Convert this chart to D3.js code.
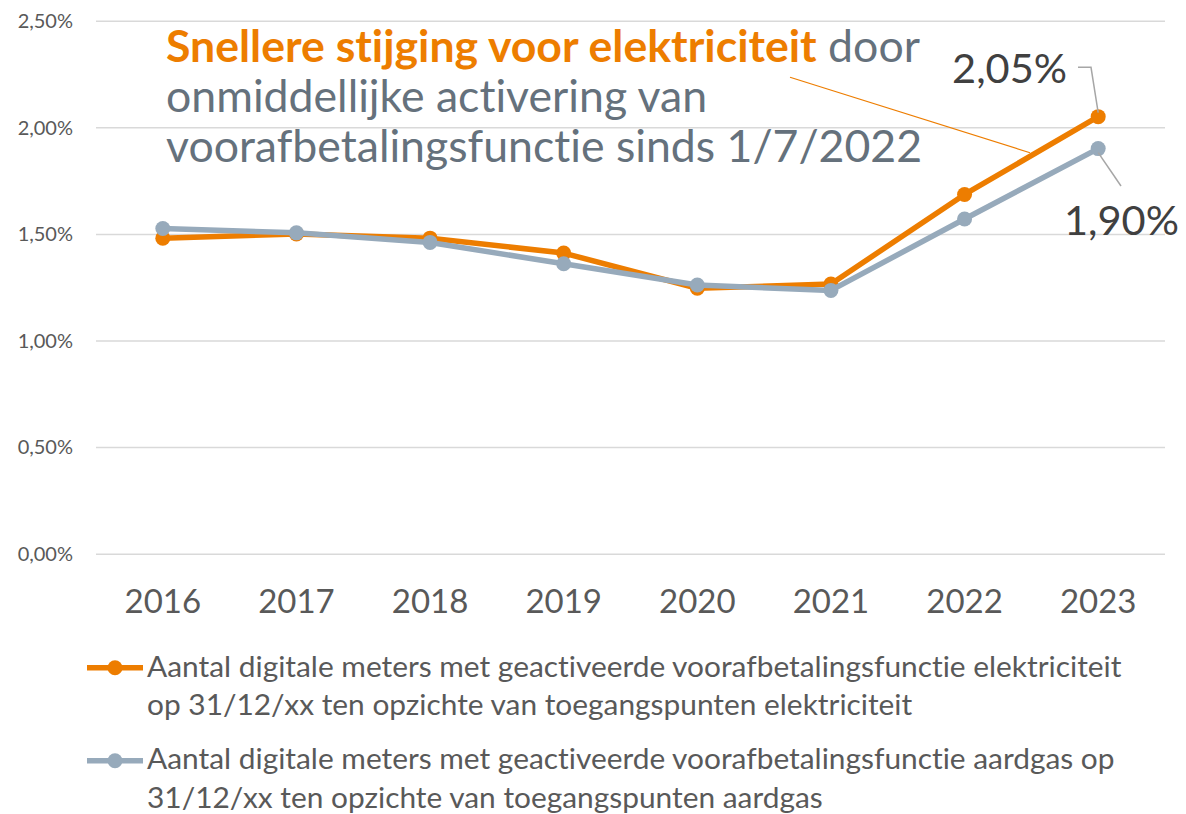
<!DOCTYPE html>
<html>
<head>
<meta charset="utf-8">
<script src="https://cdn.jsdelivr.net/npm/d3@7"></script>
<style>
  html, body { margin: 0; padding: 0; background: #fff; }
  svg { display: block; font-family: Lato, "Open Sans", sans-serif; }
  svg text { font-variant-ligatures: none; font-feature-settings: "liga" 0, "clig" 0, "dlig" 0; }
</style>
</head>
<body>
<svg id="chart" width="1186" height="814"></svg>
<script>
// ---- data ----
const years = ["2016", "2017", "2018", "2019", "2020", "2021", "2022", "2023"];
const elecValues = [1.48, 1.50, 1.48, 1.41, 1.245, 1.265, 1.685, 2.05];
const gasValues = [1.525, 1.505, 1.46, 1.36, 1.26, 1.235, 1.57, 1.90];
const yTicks = [0, 0.5, 1.0, 1.5, 2.0, 2.5];
const seriesNames = [
  ["Aantal digitale meters met geactiveerde voorafbetalingsfunctie elektriciteit",
   "op 31/12/xx ten opzichte van toegangspunten elektriciteit"],
  ["Aantal digitale meters met geactiveerde voorafbetalingsfunctie aardgas op",
   "31/12/xx ten opzichte van toegangspunten aardgas"]
];
const annotationBold = "Snellere stijging voor elektriciteit";
const annotationLines = [" door", "onmiddellijke activering van", "voorafbetalingsfunctie sinds 1/7/2022"];

const ORANGE = "#ED7D00";
const GREYBLUE = "#97AABB";
const AXIS_TXT = "#595959";

const svg = d3.select("#chart");
const mLeft = 96, mRight = 1165, mTop = 20.7, mBottom = 553.7;

const x = d3.scaleBand().domain(years).range([mLeft, mRight]);
const y = d3.scaleLinear().domain([0, 2.5]).range([mBottom, mTop]);
const fmt = v => d3.format(".2f")(v).replace(".", ",") + "%";

// y axis + gridlines
const yAxis = svg.append("g")
  .attr("transform", `translate(${mLeft},0)`)
  .call(d3.axisLeft(y).tickValues(yTicks).tickFormat(fmt).tickSize(-(mRight - mLeft)).tickPadding(23));
yAxis.select(".domain").remove();
yAxis.selectAll(".tick line").attr("stroke", "#d9d9d9").attr("stroke-width", 1.5);
yAxis.selectAll(".tick text")
  .attr("fill", AXIS_TXT).attr("font-size", 20).attr("font-family", "Lato, sans-serif")
  .attr("dy", "0.34em");

// x axis
const xAxis = svg.append("g")
  .attr("transform", `translate(0,${mBottom})`)
  .call(d3.axisBottom(x).tickSize(0).tickPadding(0));
xAxis.select(".domain").remove();
xAxis.selectAll(".tick text")
  .attr("fill", AXIS_TXT).attr("font-size", 33).attr("font-family", "Lato, sans-serif")
  .attr("y", 59).attr("dy", 0);

// lines
const cx = d => x(d) + x.bandwidth() / 2;
const line = d3.line().x((d, i) => cx(years[i])).y(d => y(d));

function drawSeries(vals, color) {
  svg.append("path").datum(vals)
    .attr("d", line).attr("fill", "none")
    .attr("stroke", color).attr("stroke-width", 5.5)
    .attr("stroke-linejoin", "round");
  svg.append("g").selectAll("circle").data(vals).join("circle")
    .attr("cx", (d, i) => cx(years[i])).attr("cy", d => y(d))
    .attr("r", 7.5).attr("fill", color);
}
drawSeries(elecValues, ORANGE);
drawSeries(gasValues, GREYBLUE);

// annotation
const annFs = 44;
const a1 = svg.append("text").attr("x", 166).attr("y", 61.7).attr("font-size", annFs);
a1.append("tspan").attr("font-weight", "bold").attr("fill", ORANGE).text(annotationBold);
a1.append("tspan").attr("fill", "#65717C").text(annotationLines[0]);
const w1 = a1.node().getBBox().width;
const fitFs = annFs * 754 / w1;
a1.attr("font-size", fitFs);
annotationLines.slice(1).forEach((t, i) => {
  svg.append("text").attr("x", 166).attr("y", 111.7 + i * 50)
    .attr("font-size", fitFs).attr("fill", "#65717C").text(t);
});

// annotation leader line
const lastI = years.length - 1;
svg.append("line")
  .attr("x1", 790).attr("y1", 77.3)
  .attr("x2", 1030).attr("y2", 152.7)
  .attr("stroke", ORANGE).attr("stroke-width", 1.2);

// data labels
const l1 = svg.append("text").attr("x", 1067).attr("y", 83.3).attr("text-anchor", "end")
  .attr("font-size", fitFs).attr("fill", "#404040").text(fmt(elecValues[lastI]));
const lblFs = fitFs * 115 / l1.node().getComputedTextLength();
l1.attr("font-size", lblFs);
svg.append("text").attr("x", 1064).attr("y", 235).attr("text-anchor", "start")
  .attr("font-size", lblFs).attr("fill", "#404040").text(fmt(gasValues[lastI]));

const px = cx(years[lastI]);
svg.append("path")
  .attr("d", `M1078,67.3 L1091,67.3 L${px},${y(elecValues[lastI]) - 4}`)
  .attr("fill", "none").attr("stroke", "#A6A6A6").attr("stroke-width", 1.5);
svg.append("path")
  .attr("d", `M${px},${y(gasValues[lastI]) + 4} L1121,186`)
  .attr("fill", "none").attr("stroke", "#A6A6A6").attr("stroke-width", 1.5);

// legend
const legendColors = [ORANGE, GREYBLUE];
const legendY = [667.7, 760.7];
const legendBase = [676.5, 769];
let legFs = 27;
const legTexts = [];
seriesNames.forEach((lines, k) => {
  const g = svg.append("g");
  g.append("line").attr("x1", 87).attr("x2", 143)
    .attr("y1", legendY[k]).attr("y2", legendY[k])
    .attr("stroke", legendColors[k]).attr("stroke-width", 5.5);
  g.append("circle").attr("cx", 115).attr("cy", legendY[k]).attr("r", 7.5).attr("fill", legendColors[k]);
  lines.forEach((t, j) => {
    legTexts.push(g.append("text").attr("x", 147).attr("y", legendBase[k] + j * 38.5)
      .attr("font-size", legFs).attr("fill", AXIS_TXT).text(t));
  });
});
const lw = legTexts[0].node().getComputedTextLength();
legFs = legFs * 975 / lw;
legTexts.forEach(t => t.attr("font-size", legFs));
</script>
</body>
</html>
